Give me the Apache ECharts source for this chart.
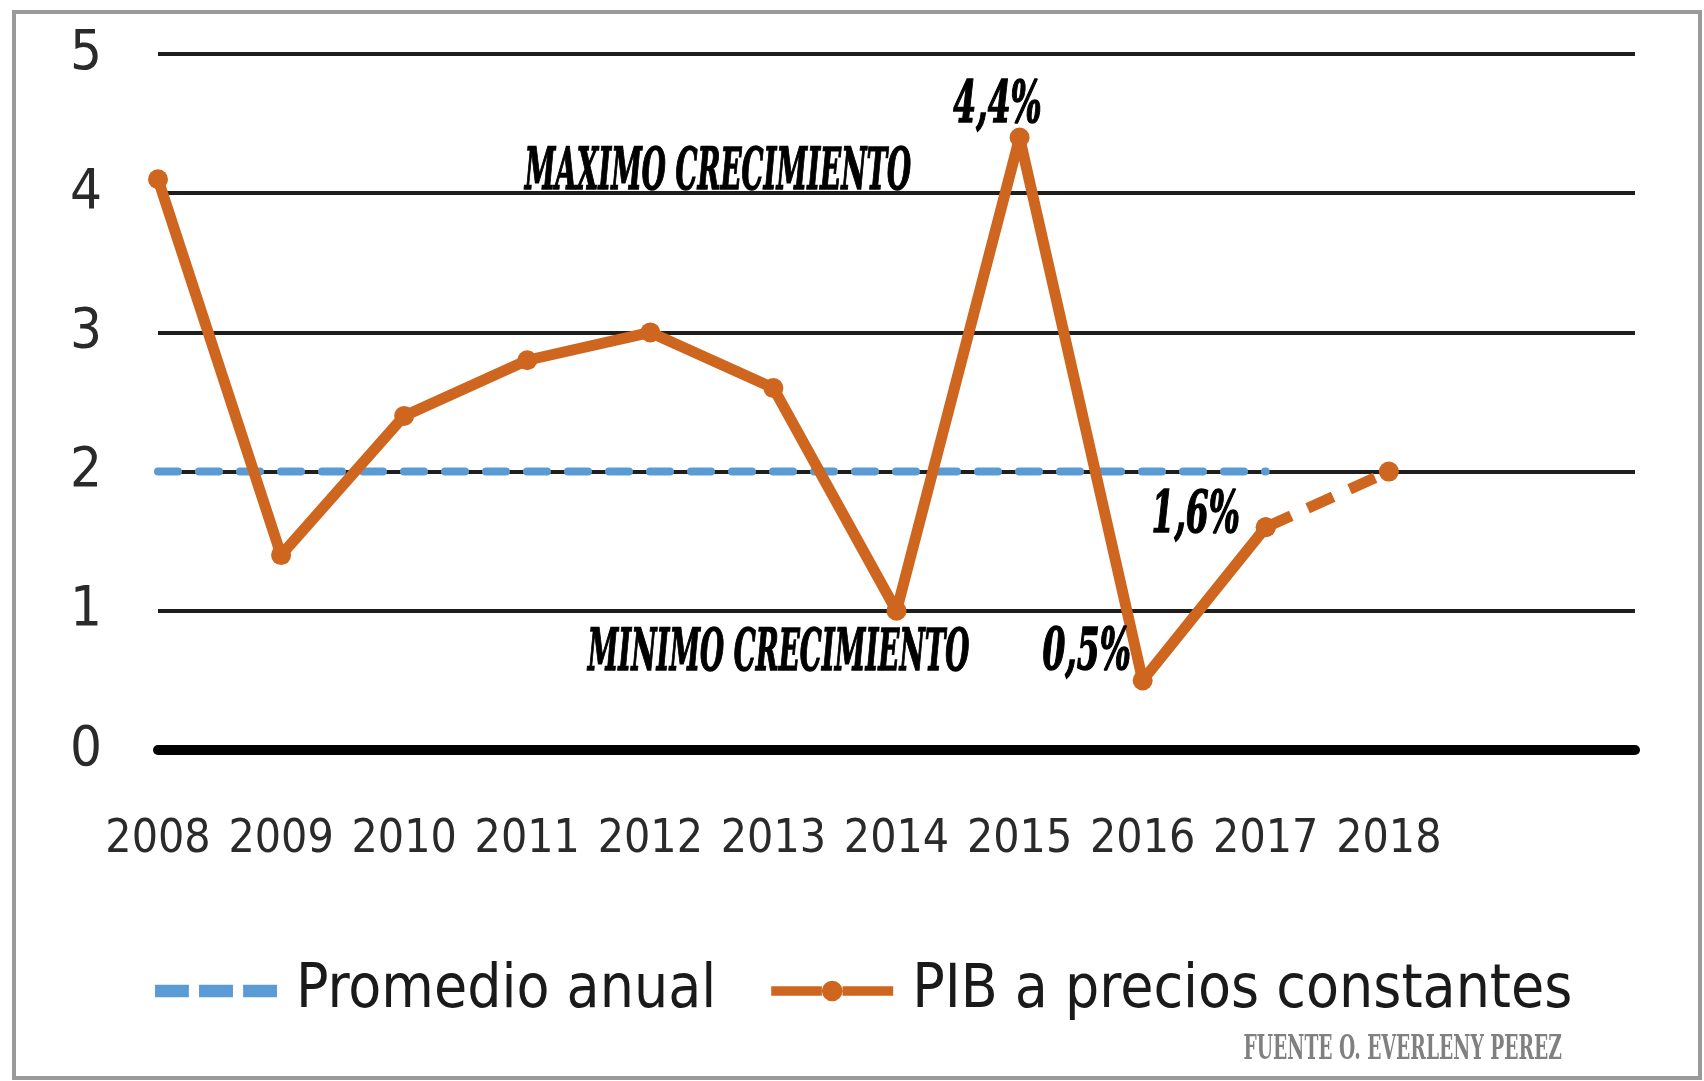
<!DOCTYPE html>
<html>
<head>
<meta charset="utf-8">
<script src="https://cdn.jsdelivr.net/npm/echarts@6/dist/echarts.min.js"></script>
<style>
html,body{margin:0;padding:0;background:#fff;}
#c{width:1704px;height:1081px;}
</style>
</head>
<body>
<div id="c"></div>
<script>
// ---- data ----
var years = ['2008','2009','2010','2011','2012','2013','2014','2015','2016','2017','2018',' ','  '];
var pib = [4.1, 1.4, 2.4, 2.8, 3.0, 2.6, 1.0, 4.4, 0.5, 1.6, null, null, null];
var pibProj = [null, null, null, null, null, null, null, null, null, 1.6, 2.0, null, null];
var promedio = [2, 2, 2, 2, 2, 2, 2, 2, 2, 2, null, null, null];
var yTicks = [0, 1, 2, 3, 4, 5];
var pctLabels = ['4,4%', '0,5%', '1,6%'];
var maxText = 'MAXIMO CRECIMIENTO';
var minText = 'MINIMO CRECIMIENTO';
var sourceText = 'FUENTE O. EVERLENY PEREZ';

var ORANGE = '#CF6620';
var BLUE = '#5B9BD5';
var COND = '"DejaVu Sans Condensed", "DejaVu Sans", sans-serif';
var SERIF = '"DejaVu Serif Condensed", "DejaVu Serif", serif';

var chart = echarts.init(document.getElementById('c'), null, {renderer: 'canvas'});
chart.setOption({
  backgroundColor: '#ffffff',
  animation: false,
  grid: {left: 158, right: 69, top: 54, bottom: 331, containLabel: false},
  xAxis: {
    type: 'category',
    data: years,
    boundaryGap: false,
    axisLine: {show: true, lineStyle: {color: '#000', width: 10}},
    axisTick: {show: false},
    axisLabel: {fontFamily: COND, fontSize: 46, color: '#2a2a2a', margin: 67, interval: 0},
    splitLine: {show: false}
  },
  yAxis: {
    type: 'value',
    min: yTicks[0],
    max: yTicks[yTicks.length - 1],
    interval: 1,
    axisLine: {show: false},
    axisTick: {show: false},
    axisLabel: {fontFamily: COND, fontSize: 56, color: '#2a2a2a', margin: 56},
    splitLine: {show: true, lineStyle: {color: '#1e1e1e', width: 4}}
  },
  legend: {
    left: 150,
    top: 956,
    itemWidth: 122,
    itemHeight: 22,
    itemGap: 55,
    textStyle: {fontFamily: COND, fontSize: 60, color: '#1a1a1a', padding: [0, 0, 0, 14]},
    data: [
      {name: 'Promedio anual', icon: 'path://M0,0h30v11h-30z M39,0h30v11h-30z M78,0h30v11h-30z', itemStyle: {color: BLUE}},
      {name: 'PIB a precios constantes', icon: 'path://M0,6h54v10h-54z M76,6h54v10h-54z M54,11a11,11 0 1,1 22,0a11,11 0 1,1 -22,0z', itemStyle: {color: ORANGE}}
    ]
  },
  series: [
    {
      name: 'Promedio anual',
      type: 'line',
      data: promedio,
      showSymbol: false,
      symbol: 'none',
      lineStyle: {color: BLUE, width: 8, type: [20, 21], cap: 'round'},
      itemStyle: {color: BLUE},
      z: 2
    },
    {
      name: 'PIB a precios constantes',
      type: 'line',
      data: pib,
      symbol: 'circle',
      symbolSize: 20,
      lineStyle: {color: ORANGE, width: 11},
      itemStyle: {color: ORANGE},
      z: 3
    },
    {
      name: 'proyeccion',
      type: 'line',
      data: pibProj,
      symbol: 'circle',
      symbolSize: 20,
      lineStyle: {color: ORANGE, width: 11, type: [28, 18]},
      itemStyle: {color: ORANGE},
      z: 3
    }
  ]
});

function px(cat, val) { return chart.convertToPixel({gridIndex: 0}, [cat, val]); }
function annoText(text, x, y, size, sx) {
  return {
    type: 'text', x: x, y: y, scaleX: sx, z: 100,
    style: {
      text: text,
      font: 'italic bold ' + size + 'px ' + SERIF,
      fill: '#000',
      stroke: '#000',
      lineWidth: 1.4,
      align: 'center',
      verticalAlign: 'middle'
    }
  };
}

var p15 = px('2015', pib[7]);
var p16 = px('2016', pib[8]);
var p17 = px('2017', pib[9]);
var p12 = px('2012', 4.15);
var p13 = px('2013', 4.15);
var p14 = px('2014', 0.7);

chart.setOption({
  graphic: [
    {
      type: 'rect', z: 0, silent: true,
      shape: {x: 14, y: 12, width: 1686, height: 1066},
      style: {fill: 'none', stroke: '#9a9a9a', lineWidth: 4}
    },
    annoText(maxText, (p12[0] + p13[0]) / 2 + 6, p12[1] + 2, 58, 0.53),
    annoText(pctLabels[0], p15[0] - 22, p15[1] - 31, 58, 0.63),
    annoText(minText, p14[0] - 118, p14[1] + 2, 58, 0.53),
    annoText(pctLabels[1], p16[0] - 56, p16[1] - 26, 58, 0.63),
    annoText(pctLabels[2], p17[0] - 70, p17[1] - 10, 58, 0.63),
    {
      type: 'text', x: 1562, y: 1050, scaleX: 0.55, z: 100,
      style: {
        text: sourceText,
        font: 'bold 34px "DejaVu Serif", serif',
        fill: '#808080',
        align: 'right',
        verticalAlign: 'middle'
      }
    }
  ]
});
</script>
</body>
</html>
